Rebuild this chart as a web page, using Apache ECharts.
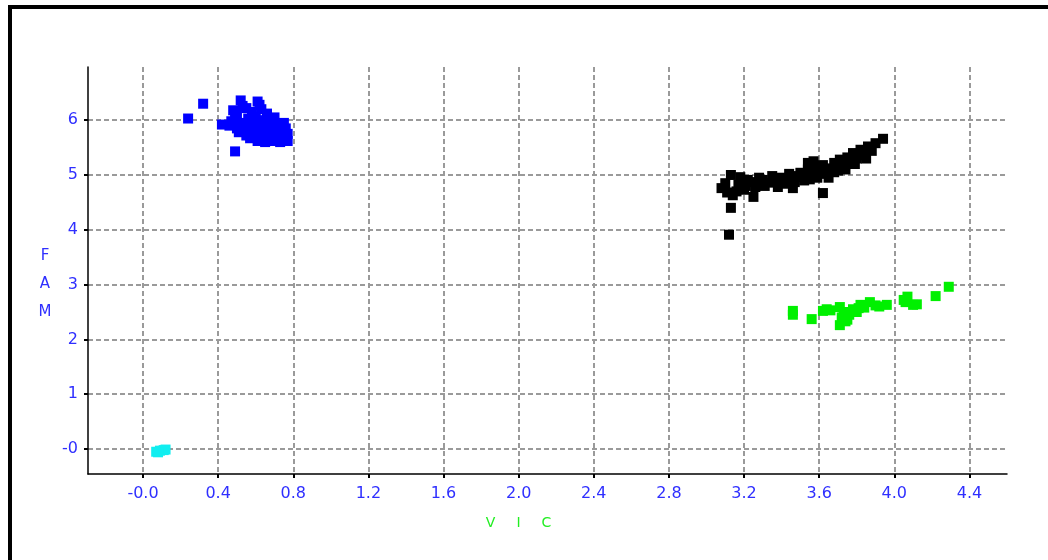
<!DOCTYPE html>
<html>
<head>
<meta charset="utf-8">
<script src="https://cdn.jsdelivr.net/npm/echarts@6/dist/echarts.min.js"></script>
<style>
  html, body { margin: 0; padding: 0; background: #fff; }
  #wrap { width: 1048px; height: 560px; position: relative; }
  #chart { width: 1048px; height: 560px; position: absolute; left: 0; top: 0; }
  .frame {
    position: absolute; left: 8px; top: 5px; right: 0; bottom: 0;
    border-left: 4px solid #000; border-top: 4px solid #000;
    pointer-events: none; z-index: 5;
  }
</style>
</head>
<body>
<div id="wrap">
  <div id="chart"></div>
  <div class="frame"></div>
</div>
<script>
// tick values and the labels printed under / beside them
const xTicks = [0, 0.4, 0.8, 1.2, 1.6, 2.0, 2.4, 2.8, 3.2, 3.6, 4.0, 4.4]
const xTickLabels = ['-0.0', '0.4', '0.8', '1.2', '1.6', '2.0', '2.4', '2.8', '3.2', '3.6', '4.0', '4.4']
const yTicks = [0, 1, 2, 3, 4, 5, 6]
const yTickLabels = ['-0', '1', '2', '3', '4', '5', '6']

// clusters, [VIC, FAM]
const blueData = [
  [0.24, 6.03], [0.32, 6.30], [0.42, 5.92], [0.49, 5.43],
  [0.52, 6.36], [0.61, 6.34], [0.48, 6.18], [0.50, 6.10], [0.55, 6.22], [0.58, 6.15],
  [0.63, 6.20], [0.66, 6.12], [0.70, 6.05], [0.47, 5.98], [0.52, 5.95], [0.56, 6.03],
  [0.60, 6.06], [0.64, 6.00], [0.68, 5.97], [0.72, 5.93], [0.75, 5.95], [0.50, 5.85],
  [0.54, 5.82], [0.58, 5.90], [0.62, 5.88], [0.66, 5.84], [0.70, 5.86], [0.74, 5.80],
  [0.77, 5.75], [0.55, 5.72], [0.59, 5.76], [0.63, 5.70], [0.67, 5.73], [0.71, 5.68],
  [0.75, 5.66], [0.61, 5.62], [0.65, 5.60], [0.69, 5.62], [0.73, 5.60], [0.77, 5.62],
  [0.57, 5.67], [0.53, 6.26], [0.62, 6.28], [0.49, 6.05], [0.46, 5.90], [0.60, 5.98],
  [0.56, 5.94], [0.65, 5.92], [0.69, 5.78], [0.57, 5.84], [0.62, 5.79], [0.72, 5.74],
  [0.66, 5.67], [0.76, 5.85], [0.51, 5.78]
]
const blackData = [
  [3.12, 3.91], [3.13, 4.40], [3.08, 4.76], [3.13, 5.00], [3.14, 4.63], [3.20, 4.73],
  [3.22, 4.91], [3.25, 4.60], [3.10, 4.85], [3.17, 4.82], [3.26, 4.78], [3.18, 4.96],
  [3.28, 4.95], [3.30, 4.91], [3.33, 4.86], [3.35, 4.98], [3.38, 4.78], [3.40, 4.95],
  [3.43, 4.91], [3.46, 4.76], [3.44, 5.02], [3.48, 4.98], [3.50, 5.04], [3.52, 4.90],
  [3.54, 5.10], [3.54, 5.22], [3.56, 5.00], [3.58, 5.14], [3.60, 5.06], [3.62, 5.18],
  [3.59, 4.95], [3.62, 4.67], [3.64, 5.02], [3.66, 5.12], [3.68, 5.22], [3.70, 5.08],
  [3.71, 5.28], [3.73, 5.16], [3.75, 5.32], [3.76, 5.22], [3.78, 5.40], [3.80, 5.30],
  [3.82, 5.46], [3.84, 5.38], [3.86, 5.52], [3.88, 5.44], [3.90, 5.58], [3.94, 5.66],
  [3.36, 4.88], [3.42, 4.84], [3.55, 4.92], [3.65, 4.95], [3.57, 5.25], [3.68, 5.05],
  [3.74, 5.10], [3.79, 5.20], [3.85, 5.30], [3.31, 4.80], [3.24, 4.87], [3.21, 4.80],
  [3.29, 4.84], [3.37, 4.93], [3.47, 4.87], [3.51, 4.96], [3.63, 5.10], [3.72, 5.20],
  [3.81, 5.36], [3.87, 5.48], [3.16, 4.70], [3.11, 4.68]
]
const greenData = [
  [3.46, 2.45], [3.46, 2.52], [3.56, 2.37], [3.62, 2.52], [3.64, 2.55], [3.71, 2.59],
  [3.71, 2.26], [3.72, 2.40], [3.74, 2.33], [3.73, 2.50], [3.76, 2.45], [3.78, 2.55],
  [3.80, 2.50], [3.82, 2.63], [3.84, 2.58], [3.87, 2.68], [3.90, 2.62], [3.92, 2.60],
  [3.96, 2.63], [4.05, 2.72], [4.07, 2.78], [4.06, 2.68], [4.10, 2.63], [4.12, 2.64],
  [4.22, 2.79], [4.29, 2.96], [3.66, 2.53], [3.75, 2.36], [3.81, 2.57]
]
const cyanData = [
  [0.07, -0.05], [0.09, -0.03], [0.11, -0.02], [0.12, -0.01], [0.08, -0.06]
]

const labelBlue = '#2f2fff'
const gridLine = { show: true, lineStyle: { color: '#9a9a9a', width: 2, type: [5, 3] } }

function pointSeries(data, color) {
  return {
    type: 'scatter',
    data: data,
    symbol: 'rect',
    symbolSize: 10,
    itemStyle: { color: color, opacity: 1 },
    silent: true
  }
}

const myChart = echarts.init(document.getElementById('chart'), null, { renderer: 'canvas' })
myChart.setOption({
  animation: false,
  backgroundColor: '#fff',
  grid: { left: 88, right: 41, top: 67, bottom: 86 },
  xAxis: {
    type: 'value',
    min: -0.293,
    max: 4.6,
    name: '{a|V}{a|I}{a|C}',
    nameLocation: 'middle',
    nameGap: 42,
    nameTextStyle: {
      padding: [0, 58, 0, 0],
      rich: { a: { width: 28, align: 'center', color: '#22ee22', fontSize: 14, fontFamily: 'DejaVu Sans' } }
    },
    axisLine: { show: true, onZero: false, lineStyle: { color: '#000', width: 1.5 } },
    axisTick: { show: true, length: 4, customValues: xTicks, lineStyle: { color: '#000', width: 2 } },
    axisLabel: {
      customValues: xTicks,
      margin: 12,
      color: labelBlue,
      fontSize: 16,
      fontFamily: 'DejaVu Sans',
      formatter: v => xTickLabels[xTicks.findIndex(t => Math.abs(t - v) < 1e-6)]
    },
    splitLine: gridLine
  },
  yAxis: {
    type: 'value',
    min: -0.456,
    max: 6.97,
    // leading blank line pushes the stacked letters a little below the middle
    name: '\nF\nA\nM',
    nameLocation: 'middle',
    nameRotate: 0,
    nameGap: 43,
    nameTextStyle: {
      color: labelBlue, fontSize: 15, fontFamily: 'DejaVu Sans',
      lineHeight: 28, align: 'center'
    },
    axisLine: { show: true, onZero: false, lineStyle: { color: '#000', width: 1.5 } },
    axisTick: { show: true, length: 4, customValues: yTicks, lineStyle: { color: '#000', width: 2 } },
    axisLabel: {
      customValues: yTicks,
      margin: 10,
      color: labelBlue,
      fontSize: 16,
      fontFamily: 'DejaVu Sans',
      formatter: v => yTickLabels[yTicks.indexOf(Math.round(v))]
    },
    splitLine: gridLine
  },
  series: [
    pointSeries(blueData, '#0000ff'),
    pointSeries(blackData, '#000000'),
    pointSeries(greenData, '#00f000'),
    pointSeries(cyanData, '#11eef0')
  ]
})
</script>
</body>
</html>
